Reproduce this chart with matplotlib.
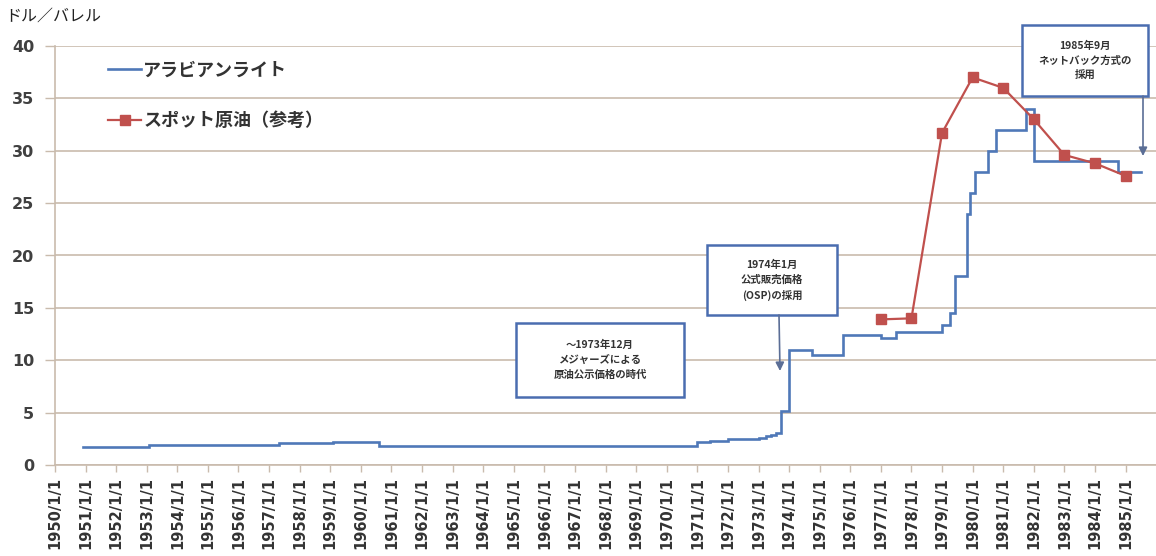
import datetime as dt
import matplotlib
matplotlib.use("Agg")
import matplotlib.pyplot as plt
import matplotlib.dates as mdates
from matplotlib.patches import Rectangle, FancyArrowPatch
from matplotlib.lines import Line2D
from matplotlib.ticker import FuncFormatter

plt.rcParams['font.family'] = ['Noto Sans CJK JP', 'DejaVu Sans']

# Arabian Light posted / official selling price (change dates, USD/bbl)
light_dates = ["1950-12", "1953-02", "1957-05", "1959-02", "1960-08",
               "1971-01", "1971-06", "1972-01", "1973-01", "1973-04",
               "1973-06", "1973-08", "1973-10", "1974-01", "1974-10",
               "1975-10", "1977-01", "1977-07", "1979-01", "1979-04",
               "1979-06", "1979-11", "1979-12", "1980-02", "1980-07",
               "1980-10", "1981-10", "1982-01", "1984-10", "1985-07"]
light_values = [1.75, 1.93, 2.08, 2.23, 1.80,
                2.18, 2.29, 2.48, 2.59, 2.74,
                2.90, 3.07, 5.12, 11.0, 10.46,
                12.38, 12.09, 12.70, 13.34, 14.55,
                18.00, 24.00, 26.00, 28.00, 30.00,
                32.00, 34.00, 29.00, 28.00, 28.00]

# Spot crude, yearly reference values
spot_years = [1977, 1978, 1979, 1980, 1981, 1982, 1983, 1984, 1985]
spot_values = [13.9, 14.0, 31.7, 37.0, 36.0, 33.0, 29.6, 28.8, 27.6]

series_names = ["アラビアンライト", "スポット原油（参考）"]
y_unit = "ドル／バレル"
note_texts = ["～1973年12月\nメジャーズによる\n原油公示価格の時代",
              "1974年1月\n公式販売価格\n(OSP)の採用",
              "1985年9月\nネットバック方式の\n採用"]

BLUE = "#4f78b8"
RED = "#c0504d"
GRID = "#c9bbad"
BOX = "#4a6db0"
ARROW = "#5b6e96"

W, H = 1156, 556
fig = plt.figure(figsize=(W / 100, H / 100), dpi=100)
ax = fig.add_axes([55 / W, 1 - 465 / H, 1101 / W, 419 / H])


def to_date(s):
    y, m = s.split("-")
    return dt.datetime(int(y), int(m), 1)


lx = [to_date(s) for s in light_dates]
sx = [dt.datetime(y, 1, 1) for y in spot_years]

ax.plot(lx, light_values, drawstyle="steps-post", color=BLUE, lw=1.9,
        solid_joinstyle="miter", zorder=3)
ax.plot(sx, spot_values, color=RED, lw=1.6, marker="s", ms=6.5,
        markeredgecolor=RED, zorder=4)

ax.set_xlim(dt.datetime(1950, 1, 1), dt.datetime(1985, 12, 30))
ax.set_ylim(0, 40)
ax.set_yticks(range(0, 41, 5))
ax.xaxis.set_major_locator(mdates.YearLocator(1))
ax.xaxis.set_major_formatter(FuncFormatter(
    lambda v, p: (lambda d: f"{d.year}/{d.month}/{d.day}")(mdates.num2date(v))))
ax.tick_params(axis="x", rotation=90, labelsize=10.5, colors=GRID,
               labelcolor="#333333", length=5, width=1)
ax.tick_params(axis="y", labelsize=11.5, colors=GRID, labelcolor="#404040",
               length=7, width=1, pad=8)
for lab in ax.get_xticklabels() + ax.get_yticklabels():
    lab.set_fontweight("bold")
    lab.set_family(["DejaVu Sans"])

ax.grid(axis="y", color=GRID, lw=1.2)
ax.set_axisbelow(True)
for side in ("top", "right"):
    ax.spines[side].set_visible(False)
for side in ("left", "bottom"):
    ax.spines[side].set_color(GRID)
    ax.spines[side].set_linewidth(1.2)

handles = [Line2D([], [], color=BLUE, lw=1.9),
           Line2D([], [], color=RED, lw=1.6, marker="s", ms=6.5)]
leg = ax.legend(handles, series_names, loc="upper left",
                bbox_to_anchor=(37 / 1101, 1 + 2 / 419), frameon=False,
                handlelength=1.8, handletextpad=0.15, labelspacing=1.75,
                prop={"size": 13, "weight": "bold"})
for t in leg.get_texts():
    t.set_color("#333333")

fig.text(5 / W, 1 - 16 / H, y_unit, fontsize=11.5, va="center", ha="left",
         color="#222222")


def fpt(x, y):
    return (x / W, 1 - y / H)


boxes = [(516, 323, 684, 397), (707, 245, 837, 315), (1022, 25, 1148, 96)]
for (x0, y0, x1, y1), txt in zip(boxes, note_texts):
    fig.add_artist(Rectangle(fpt(x0, y1), (x1 - x0) / W, (y1 - y0) / H,
                             transform=fig.transFigure, facecolor="white",
                             edgecolor=BOX, lw=1.8, zorder=5))
    cx, cy = fpt((x0 + x1) / 2, (y0 + y1) / 2)
    fig.text(cx, cy, txt, ha="center", va="center", fontsize=7.5,
             linespacing=1.55, color="#333333", fontweight="bold", zorder=6)

for (xa, ya), (xb, yb) in [((779, 315), (780, 371)), ((1143, 96), (1143, 156))]:
    fig.add_artist(FancyArrowPatch(
        fpt(xa, ya), fpt(xb, yb), transform=fig.transFigure,
        arrowstyle="-|>,head_length=5,head_width=2.5", color=ARROW, lw=1.2,
        shrinkA=0, shrinkB=0, zorder=5))

fig.savefig("out.png", dpi=100)
